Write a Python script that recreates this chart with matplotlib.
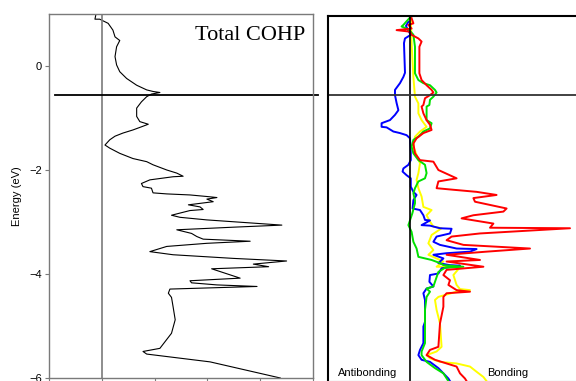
import matplotlib
matplotlib.use("Agg")
import matplotlib.pyplot as plt

# Fermi level (eV)
E_FERMI = -0.56

# total COHP curve: energy (eV) and -COHP
total_energy = [1.0, 0.90, 0.90, 0.82, 0.69, 0.56, 0.49, 0.37, 0.18, 0.02,
                -0.11, -0.24, -0.37, -0.46, -0.49, -0.51, -0.54, -0.59, -0.69, -0.81,
                -0.97, -1.07, -1.12, -1.17, -1.23, -1.29, -1.35, -1.42, -1.52, -1.58,
                -1.68, -1.78, -1.84, -1.90, -2.00, -2.06, -2.12, -2.13, -2.19, -2.26,
                -2.32, -2.35, -2.44, -2.46, -2.48, -2.51, -2.53, -2.56, -2.61, -2.67,
                -2.71, -2.76, -2.78, -2.87, -2.91, -2.96, -3.06, -3.10, -3.15, -3.22,
                -3.28, -3.33, -3.37, -3.41, -3.47, -3.57, -3.63, -3.70, -3.75, -3.81,
                -3.86, -3.90, -4.08, -4.13, -4.17, -4.21, -4.24, -4.29, -4.37, -4.45,
                -4.63, -4.88, -5.14, -5.43, -5.49, -5.54, -5.69, -6.0]
total_cohp = [-0.11, -0.13, -0.04, 0.12, 0.21, 0.25, 0.34, 0.28, 0.25, 0.28,
              0.34, 0.47, 0.66, 0.85, 0.97, 1.10, 0.94, 0.85, 0.75, 0.66,
              0.66, 0.72, 0.88, 0.75, 0.59, 0.40, 0.25, 0.15, 0.06, 0.15,
              0.34, 0.59, 0.85, 0.97, 1.23, 1.42, 1.54, 1.35, 0.91, 0.75,
              0.78, 0.94, 0.97, 1.23, 1.67, 1.99, 2.18, 1.99, 2.11, 1.64,
              1.86, 1.92, 1.67, 1.32, 1.48, 1.99, 3.41, 2.49, 1.42, 1.70,
              1.80, 1.92, 2.81, 1.99, 1.23, 0.91, 1.35, 2.49, 3.50, 2.87,
              3.16, 2.08, 2.62, 1.67, 1.70, 2.18, 2.94, 1.29, 1.26, 1.32,
              1.35, 1.39, 1.32, 1.10, 0.78, 0.85, 2.05, 3.38]

# orbital-resolved COHP curves (energy, -COHP)
blue_energy = [0.85, 0.77, 0.69, 0.60, 0.53, 0.44, -0.13, -0.21, -0.33, -0.46,
               -0.56, -0.71, -0.85, -0.94, -1.04, -1.10, -1.17, -1.18, -1.26, -1.29,
               -1.33, -1.39, -1.68, -1.81, -1.90, -1.97, -2.03, -2.10, -2.16, -2.32,
               -2.42, -2.48, -2.58, -2.74, -2.77, -2.87, -2.96, -2.97, -3.06, -3.07,
               -3.12, -3.13, -3.22, -3.28, -3.38, -3.44, -3.51, -3.52, -3.57, -3.60,
               -3.63, -3.70, -3.79, -3.83, -3.84, -3.89, -3.99, -4.02, -4.15, -4.24,
               -4.28, -4.37, -4.50, -4.92, -5.01, -5.33, -5.46, -5.56, -5.65, -5.69,
               -5.81, -5.91, -6.01, -6.06]
blue_cohp = [-0.08, -0.2, -0.1, 0.04, -0.25, -0.3, -0.25, -0.33, -0.5, -0.75,
             -0.75, -0.67, -0.58, -0.75, -1.0, -1.42, -1.42, -1.17, -0.83, -0.5,
             -0.17, 0.0, 0.04, 0.04, -0.08, -0.33, -0.37, -0.17, 0.04, 0.04,
             0.17, 0.33, 0.17, 0.13, 0.5, 0.67, 0.75, 1.0, 0.58, 1.0,
             1.5, 2.08, 2.0, 1.33, 1.17, 1.5, 2.33, 3.33, 3.0, 1.83,
             1.17, 1.67, 1.42, 2.0, 2.5, 1.58, 1.42, 1.0, 0.97, 1.17,
             0.83, 0.67, 0.75, 0.75, 0.67, 0.67, 0.5, 0.42, 0.58, 1.0,
             1.42, 1.67, 1.92, 2.0]

green_energy = [0.95, 0.79, 0.76, 0.72, 0.66, 0.60, 0.37, -0.14, -0.27, -0.33,
                -0.37, -0.46, -0.51, -0.59, -0.65, -0.75, -0.78, -1.04, -1.10, -1.20,
                -1.26, -1.36, -1.42, -1.55, -1.68, -1.81, -1.90, -2.06, -2.16, -2.22,
                -2.35, -2.45, -2.58, -2.64, -2.83, -3.06, -3.19, -3.38, -3.51, -3.67,
                -3.73, -3.79, -3.83, -3.86, -3.88, -3.96, -4.15, -4.24, -4.28, -4.34,
                -4.44, -4.69, -5.33, -5.49, -5.56, -5.69, -5.81, -5.91, -6.06]
green_cohp = [0.04, -0.33, -0.42, -0.17, 0.04, 0.17, 0.25, 0.25, 0.42, 0.67,
              1.0, 1.25, 1.33, 1.17, 1.0, 0.97, 0.83, 0.83, 1.08, 1.0,
              0.67, 0.42, 0.17, 0.08, 0.17, 0.42, 0.75, 0.83, 0.75, 0.42,
              0.25, 0.17, 0.25, 0.25, 0.12, -0.08, 0.08, 0.17, 0.33, 0.42,
              1.08, 1.5, 1.67, 2.67, 1.75, 1.42, 1.25, 1.17, 0.83, 1.0,
              0.83, 0.75, 0.75, 0.58, 0.58, 0.83, 1.25, 1.67, 1.92]

yellow_energy = [0.95, 0.44, -0.21, -0.59, -0.72, -0.91, -1.04, -1.17, -1.26, -1.36,
                 -1.55, -1.71, -1.87, -2.06, -2.19, -2.35, -2.51, -2.71, -2.77, -2.87,
                 -2.99, -3.09, -3.12, -3.25, -3.41, -3.54, -3.63, -3.76, -3.86, -3.87,
                 -4.02, -4.21, -4.29, -4.31, -4.34, -4.44, -4.50, -4.69, -4.95, -5.40,
                 -5.49, -5.56, -5.62, -5.69, -5.72, -5.78, -5.88, -5.98, -6.06]
yellow_cohp = [0.04, 0.08, 0.17, 0.25, 0.42, 0.42, 0.58, 0.83, 0.5, 0.25,
               0.17, 0.33, 0.5, 0.42, 0.33, 0.42, 0.58, 0.67, 1.08, 0.83,
               1.0, 1.17, 1.58, 1.08, 0.92, 1.17, 0.92, 1.67, 1.33, 2.5,
               2.17, 2.33, 2.5, 3.0, 2.33, 1.42, 1.25, 1.33, 1.5, 1.58,
               1.33, 0.83, 1.0, 1.5, 2.33, 3.0, 3.33, 3.67, 3.83]

red_energy = [0.92, 0.82, 0.79, 0.72, 0.69, 0.66, 0.60, 0.53, 0.47, 0.37,
              -0.14, -0.27, -0.37, -0.46, -0.51, -0.56, -0.62, -0.75, -0.78, -0.91,
              -1.04, -1.13, -1.23, -1.29, -1.39, -1.49, -1.68, -1.81, -1.84, -2.00,
              -2.16, -2.22, -2.35, -2.38, -2.42, -2.48, -2.54, -2.61, -2.74, -2.80,
              -2.87, -2.93, -3.03, -3.11, -3.12, -3.22, -3.28, -3.35, -3.44, -3.51,
              -3.57, -3.63, -3.67, -3.73, -3.76, -3.86, -3.92, -4.02, -4.12, -4.21,
              -4.31, -4.34, -4.37, -4.44, -4.63, -4.95, -5.40, -5.46, -5.56, -5.65,
              -5.72, -5.78, -5.91, -6.01, -6.06]
red_cohp = [0.08, 0.17, -0.08, 0.08, -0.67, 0.0, 0.08, 0.42, 0.58, 0.47,
            0.47, 0.58, 0.83, 1.08, 1.17, 1.0, 0.75, 0.67, 0.58, 0.67,
            0.83, 1.0, 1.08, 0.67, 0.33, 0.17, 0.25, 0.5, 1.17, 1.42,
            2.33, 1.42, 1.33, 2.17, 3.33, 4.33, 3.17, 3.25, 4.83, 4.67,
            3.17, 2.58, 4.17, 4.0, 8.0, 3.5, 2.08, 1.83, 2.67, 6.0,
            3.83, 1.83, 2.5, 3.5, 1.83, 3.67, 1.83, 1.67, 2.0, 1.92,
            2.33, 3.0, 1.83, 1.67, 1.67, 1.5, 1.42, 1.0, 0.83, 1.25,
            1.83, 2.33, 2.5, 2.75, 2.83]

SANS = ["Liberation Sans", "DejaVu Sans"]
SERIF = ["Liberation Serif", "DejaVu Serif"]
GRAY = "#7a7a7a"

fig = plt.figure(figsize=(5.76, 3.81), dpi=100)

# ---- left panel: total COHP ----
ax1 = fig.add_axes([0.0851, 0.0079, 0.4583, 0.9554])
ax1.plot(total_cohp, total_energy, color="black", lw=0.8)
ax1.axvline(0, color=GRAY, lw=1.2)
ax1.axhline(E_FERMI, xmin=0.023, xmax=1.019, color="black", lw=1.3, clip_on=False)
ax1.set_xlim(-1, 4)
ax1.set_ylim(-6, 1)
ax1.set_yticks([0, -2, -4, -6])
ax1.set_xticks([-1, 0, 1, 2, 3, 4])
ax1.set_xticklabels([])
for sp in ax1.spines.values():
    sp.set_color(GRAY)
    sp.set_linewidth(1.0)
ax1.tick_params(direction="out", length=3, width=0.8, color=GRAY, pad=2,
                labelsize=8)
for lbl in ax1.get_yticklabels():
    lbl.set_family(SANS)
ax1.set_ylabel("Energy (eV)", fontsize=8, family=SANS, labelpad=5)
ax1.text(0.97, 0.94, "Total COHP", transform=ax1.transAxes, ha="right",
         va="center", fontsize=16, family=SERIF)

# ---- right panel: orbital-resolved COHP ----
ax2 = fig.add_axes([0.5694, 0.0013, 0.4306, 0.9567])
for x, y, c in [(yellow_cohp, yellow_energy, "#ffff00"),
                (blue_cohp, blue_energy, "#0000ff"),
                (green_cohp, green_energy, "#00e000"),
                (red_cohp, red_energy, "#ff0000")]:
    ax2.plot(x, y, color=c, lw=1.4)
ax2.axvline(0, color="black", lw=1.2)
ax2.axhline(E_FERMI, color="#333333", lw=1.3)
ax2.set_xlim(-4.1, 8.3)
ax2.set_ylim(-6.048, 0.9615)
ax2.set_xticks([])
ax2.set_yticks([])
ax2.spines["right"].set_visible(False)
ax2.spines["left"].set_linewidth(1.5)
ax2.spines["top"].set_linewidth(1.5)
ax2.spines["bottom"].set_color(GRAY)
ax2.text(-2.1, -5.9, "Antibonding", ha="center", va="center", fontsize=8,
         family=SANS)
ax2.text(4.9, -5.9, "Bonding", ha="center", va="center", fontsize=8,
         family=SANS)

fig.savefig("out.png", dpi=100)
